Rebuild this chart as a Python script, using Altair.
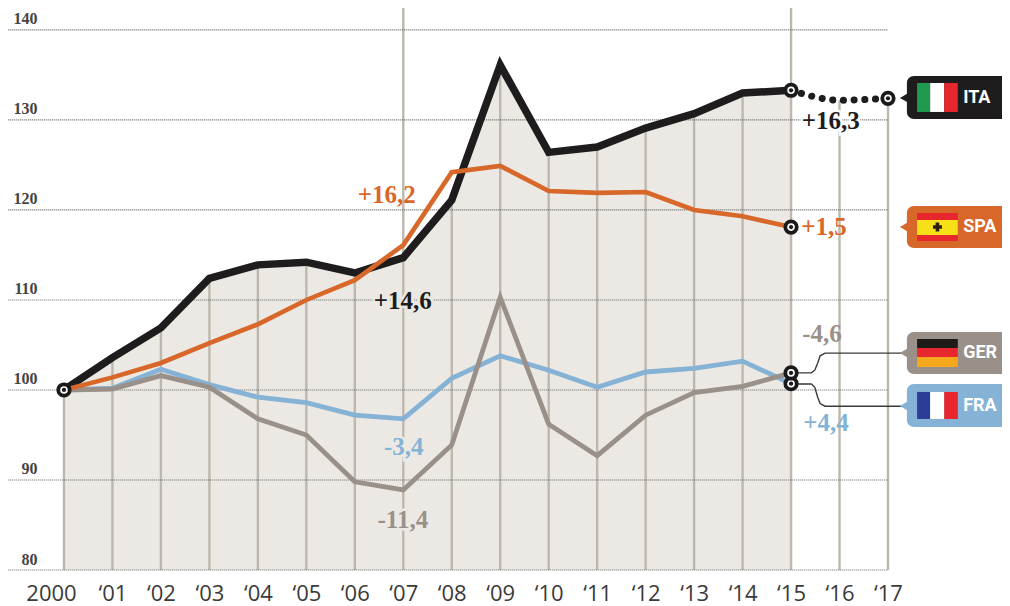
import altair as alt
import pandas as pd

YEARS = list(range(2000, 2016))
ITA = [100, 103.6, 106.9, 112.4, 113.9, 114.2, 113.0, 114.7, 121.1, 136.1, 126.4, 127.0, 129.1, 130.7, 133.0, 133.3]
SPA = [100, 101.4, 103.0, 105.2, 107.3, 110.0, 112.2, 116.1, 124.2, 124.9, 122.1, 121.9, 122.0, 120.0, 119.3, 118.1]
GER = [100, 100.1, 101.6, 100.3, 96.8, 95.0, 89.8, 88.9, 93.9, 110.3, 96.2, 92.7, 97.2, 99.7, 100.4, 101.9]
FRA = [100, 100.2, 102.3, 100.6, 99.2, 98.6, 97.2, 96.8, 101.3, 103.8, 102.2, 100.3, 102.0, 102.4, 103.2, 100.7]
ITA_FORECAST_YEARS = [2015, 2016, 2017]
ITA_FORECAST = [133.3, 132.2, 132.4]

C_ITA, C_SPA, C_GER, C_FRA = "#1e1c1d", "#d8672a", "#9a908a", "#85b2d5"
Y_TICKS = [80, 90, 100, 110, 120, 130, 140]
X_TICKS = list(range(2000, 2018))
X_DOM = [1998.845, 2019.352]
Y_DOM = [80, 142.44]

# value labels: text, year, value, colour, halo
LABELS = [
    ("+16,3", 2015.82, 129.9, C_ITA, "#ffffff"),
    ("+1,5", 2015.68, 118.1, C_SPA, None),
    ("-4,6", 2015.64, 106.2, C_GER, None),
    ("+4,4", 2015.72, 96.3, C_FRA, None),
    ("+16,2", 2006.66, 121.7, C_SPA, None),
    ("+14,6", 2006.99, 109.9, C_ITA, "#ece9e4"),
    ("-3,4", 2007.01, 93.7, C_FRA, "#ece9e4"),
    ("-11,4", 2006.99, 85.6, C_GER, "#ece9e4"),
]

# badges: name, colour, top, bottom, centre
BADGES = [
    ("ITA", C_ITA, 134.89, 130.11, 132.45),
    ("SPA", C_SPA, 120.44, 115.78, 118.11),
    ("GER", C_GER, 106.44, 101.78, 104.11),
    ("FRA", C_FRA, 100.67, 95.89, 98.22),
]
BADGE_X = [2017.39, 2019.9]
POINTER_X = 2017.32
BADGE_TEXT_X = 2018.55

# flag stripes: x, x2, y, y2, colour
FLAG = [
    (2017.60, 2017.87, 134.11, 130.89, "#1f9b50"),
    (2017.87, 2018.16, 134.11, 130.89, "#ffffff"),
    (2018.16, 2018.44, 134.11, 130.89, "#e8262d"),
    (2017.60, 2018.44, 119.67, 116.56, "#e8262d"),
    (2017.60, 2018.44, 118.89, 117.22, "#f7e017"),
    (2017.60, 2018.44, 105.67, 104.67, "#1d1a1a"),
    (2017.60, 2018.44, 104.67, 103.67, "#e8262d"),
    (2017.60, 2018.44, 103.67, 102.56, "#f5a81c"),
    (2017.60, 2017.87, 99.78, 96.78, "#2b3d97"),
    (2017.87, 2018.16, 99.78, 96.78, "#ffffff"),
    (2018.16, 2018.44, 99.78, 96.78, "#e8262d"),
]

# connector lines from the 2015 markers to the GER / FRA badges
LINK_GER_X = [2015.1, 2015.42, 2015.49, 2015.55, 2015.6, 2015.7, 2017.3]
LINK_GER_Y = [101.9, 101.9, 102.2, 103.0, 103.8, 104.1, 104.1]
LINK_FRA_X = [2015.1, 2015.42, 2015.49, 2015.55, 2015.6, 2015.7, 2017.3]
LINK_FRA_Y = [100.67, 100.67, 100.3, 99.2, 98.5, 98.2, 98.2]

MARK_X = [2000, 2015, 2017, 2015, 2015, 2015]
MARK_Y = [100, 133.3, 132.4, 118.1, 100.7, 101.9]

x_scale = alt.Scale(domain=X_DOM, nice=False, zero=False)
y_scale = alt.Scale(domain=Y_DOM, nice=False, zero=False)
x_axis = alt.Axis(
    values=X_TICKS, domain=False, ticks=False, grid=False, title=None,
    labelExpr="datum.value == 2000 ? '2000' : '\u2018' + slice(toString(datum.value), 2)",
    labelFont="Open Sans", labelFontSize=22, labelColor="#3a3a3a", labelPadding=13,
    labelOverlap=False, labelBound=False, labelFlush=False,
    labelOffset={"condition": {"test": "datum.value == 2000", "value": -13}, "value": 0},
)
y_axis = alt.Axis(
    values=Y_TICKS, domain=False, ticks=False, grid=False, title=None,
    labelFont="Liberation Serif", labelFontWeight="bold", labelFontSize=16, labelColor="#444444",
    labelAlign="right", labelBaseline="bottom", labelPadding=-29, labelOffset=-3,
    labelBound=False, labelFlush=False,
)


def XF(field):
    return alt.X(field, scale=x_scale, axis=x_axis)


def YF(field):
    return alt.Y(field, scale=y_scale, axis=y_axis)


X = XF("x:Q")
Y = YF("y:Q")

area = alt.Chart(pd.DataFrame({"x": YEARS, "y": ITA, "y2": [80] * len(YEARS)})).mark_area(
    color="#ece9e4", opacity=1).encode(x=X, y=Y, y2="y2:Q")

tops = ITA[:]
tops[7] = Y_DOM[1]
tops[15] = Y_DOM[1]
vx = YEARS + [2016, 2017]
vy = tops + ITA_FORECAST[1:]
vrules = alt.Chart(pd.DataFrame({"x": vx, "y": vy, "y2": [80] * len(vx)})).mark_rule(
    color="#bdb8ad", strokeWidth=2.4).encode(x=X, y=Y, y2="y2:Q")

hrules = alt.Chart(pd.DataFrame({"y": Y_TICKS, "x": [1998.85] * 7, "x2": [2017] * 7})).mark_rule(
    color="#666666", strokeWidth=1.2, strokeDash=[1, 1]).encode(x=X, x2="x2:Q", y=Y)


def series(values, color, width):
    return alt.Chart(pd.DataFrame({"x": YEARS, "y": values})).mark_line(
        color=color, strokeWidth=width, strokeJoin="miter", strokeCap="butt").encode(x=X, y=Y)


dots = alt.Chart(pd.DataFrame({"x": ITA_FORECAST_YEARS, "y": ITA_FORECAST})).mark_line(
    color=C_ITA, strokeWidth=7, strokeCap="round", strokeDash=[0.1, 10.6], interpolate="monotone"
).encode(x=X, y=Y)


def link(xs, ys):
    return alt.Chart(pd.DataFrame({"x": xs, "y": ys})).mark_line(color="#3a3a3a", strokeWidth=1.4).encode(x=X, y=Y)


marks = pd.DataFrame({"x": MARK_X, "y": MARK_Y})
ring = alt.Chart(marks).mark_point(shape="circle", filled=True, fill="#ffffff", stroke="#1a1a1a",
                                   strokeWidth=3.8, size=130, opacity=1).encode(x=X, y=Y)
pip = alt.Chart(marks).mark_point(shape="circle", filled=True, color="#1a1a1a", size=18, opacity=1).encode(x=X, y=Y)

labels = pd.DataFrame(LABELS, columns=["t", "x", "y", "c", "h"])
halo = alt.Chart(labels[labels.h.notna()]).mark_text(
    font="Liberation Serif", fontWeight="bold", fontSize=25, strokeWidth=5, align="center", baseline="middle"
).encode(x=X, y=Y, text="t:N", stroke=alt.Stroke("h:N", scale=None), fill=alt.Fill("h:N", scale=None))
val_text = alt.Chart(labels).mark_text(
    font="Liberation Serif", fontWeight="bold", fontSize=25, align="center", baseline="middle"
).encode(x=X, y=Y, text="t:N", color=alt.Color("c:N", scale=None))

b = pd.DataFrame(BADGES, columns=["t", "c", "y", "y2", "m"])
b["x"], b["x2"] = BADGE_X
b["px"] = POINTER_X
b["tx"] = BADGE_TEXT_X
badge = alt.Chart(b).mark_rect(cornerRadius=7).encode(x=X, x2="x2:Q", y=Y, y2="y2:Q", color=alt.Color("c:N", scale=None))
pointer = alt.Chart(b).mark_point(shape="triangle-left", filled=True, size=70, opacity=1).encode(
    x=XF("px:Q"), y=YF("m:Q"), color=alt.Color("c:N", scale=None))
badge_text = alt.Chart(b).mark_text(
    font="Roboto", fontWeight="bold", fontSize=18, color="#ffffff", align="left", baseline="middle"
).encode(x=XF("tx:Q"), y=YF("m:Q"), text="t:N")

flag = pd.DataFrame(FLAG, columns=["x", "x2", "y", "y2", "c"])
flags = alt.Chart(flag).mark_rect().encode(x=X, x2="x2:Q", y=Y, y2="y2:Q", color=alt.Color("c:N", scale=None))
emblem = alt.Chart(pd.DataFrame({"x": [2018.02], "y": [118.11]})).mark_point(
    shape="cross", filled=True, color="#2a2015", size=80, opacity=1).encode(x=X, y=Y)

chart = alt.layer(
    area, vrules, hrules,
    halo,
    series(ITA, C_ITA, 7.5), dots,
    series(FRA, C_FRA, 4.8), series(GER, C_GER, 4.8), series(SPA, C_SPA, 4.6),
    link(LINK_GER_X, LINK_GER_Y), link(LINK_FRA_X, LINK_FRA_Y),
    ring, pip, val_text,
    badge, pointer, flags, emblem, badge_text,
).properties(
    width=994, height=562,
    autosize=alt.AutoSizeParams(type="none"),
    padding={"left": 0, "top": 0, "right": 0, "bottom": 38},
    background="#ffffff",
).configure_view(stroke=None)

chart.save("out.html", embed_options={"renderer": "svg", "actions": False})
